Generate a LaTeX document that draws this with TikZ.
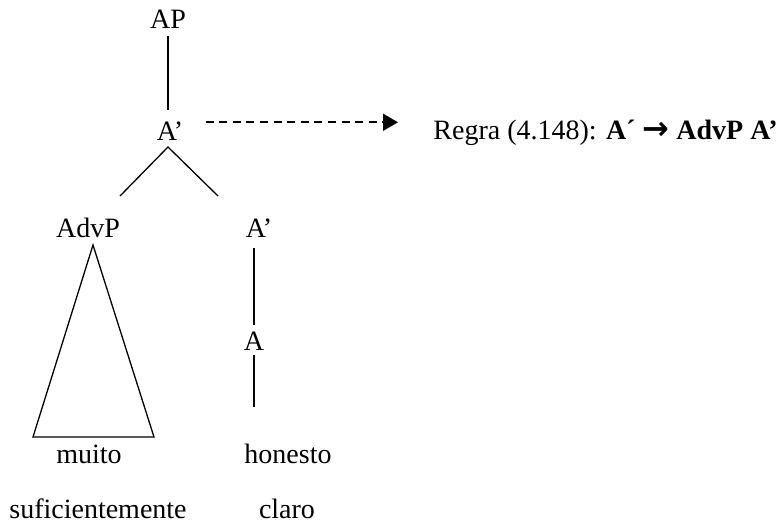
\documentclass[tikz,border=0pt]{standalone}
\usepackage{fontspec}
\setmainfont{Liberation Serif}
\newfontfamily\arrowfont{DejaVu Sans}
\usetikzlibrary{arrows.meta}

\tikzset{
    cat/.style={inner sep=0pt, anchor=base, font=\fontsize{14}{16}\selectfont},
    word/.style={inner sep=0pt, anchor=base, font=\fontsize{14}{16}\selectfont},
    branch/.style={line width=0.65pt},
}

\begin{document}
\begin{tikzpicture}[x=0.5pt, y=-0.5pt]
            \useasboundingbox (0,0) rectangle (780,524);

            \node[cat] (AP) at (168,29) {AP};
            \node[cat] (Abar) at (170,140) {A’};
            \node[cat] (AdvP) at (88,237) {AdvP};
            \node[cat] (Abar2) at (259,237) {A’};
            \node[cat] (A) at (254,350) {A};

            \node[word] (muito) at (89,463) {muito};
            \node[word] (honesto) at (288,463) {honesto};
            \node[word] (sufic) at (98,518) {suficientemente};
            \node[word] (claro) at (287,518) {claro};

            \draw[branch, shorten <=3.5pt, shorten >=5.5pt] (AP.south) -- (AP.south |- Abar.north);

            \coordinate (apex) at (168,147);
            \coordinate (leftend) at (120,196);
            \coordinate (rightend) at (218,196);
            \draw[branch] (leftend) -- (apex) -- (rightend);

            % triangulo sob AdvP
            \draw[branch] (93,245) -- (33,437) -- (154,437) -- cycle;

            \draw[branch, shorten <=5.5pt, shorten >=3pt] (Abar2.south -| A) -- (A.north);
            \draw[branch, shorten <=2.5pt, shorten >=18pt] (A.south) -- (A.south |- honesto.north);

            % regra aplicada
            \node[word, anchor=base west] (regra) at (433,139)
                {Regra (4.148): \textbf{A´ {\arrowfont\bfseries\fontsize{16}{16}\selectfont →} AdvP A’}};
            \draw[line width=0.8pt, dash pattern=on 4pt off 2.8pt, -{Triangle[length=7.5pt,width=8.5pt]},
                shorten <=11pt, shorten >=17.5pt] ([yshift=4.2pt]Abar.east) -- ([yshift=4.2pt]Abar.east -| regra.west);
        \end{tikzpicture}
\end{document}
